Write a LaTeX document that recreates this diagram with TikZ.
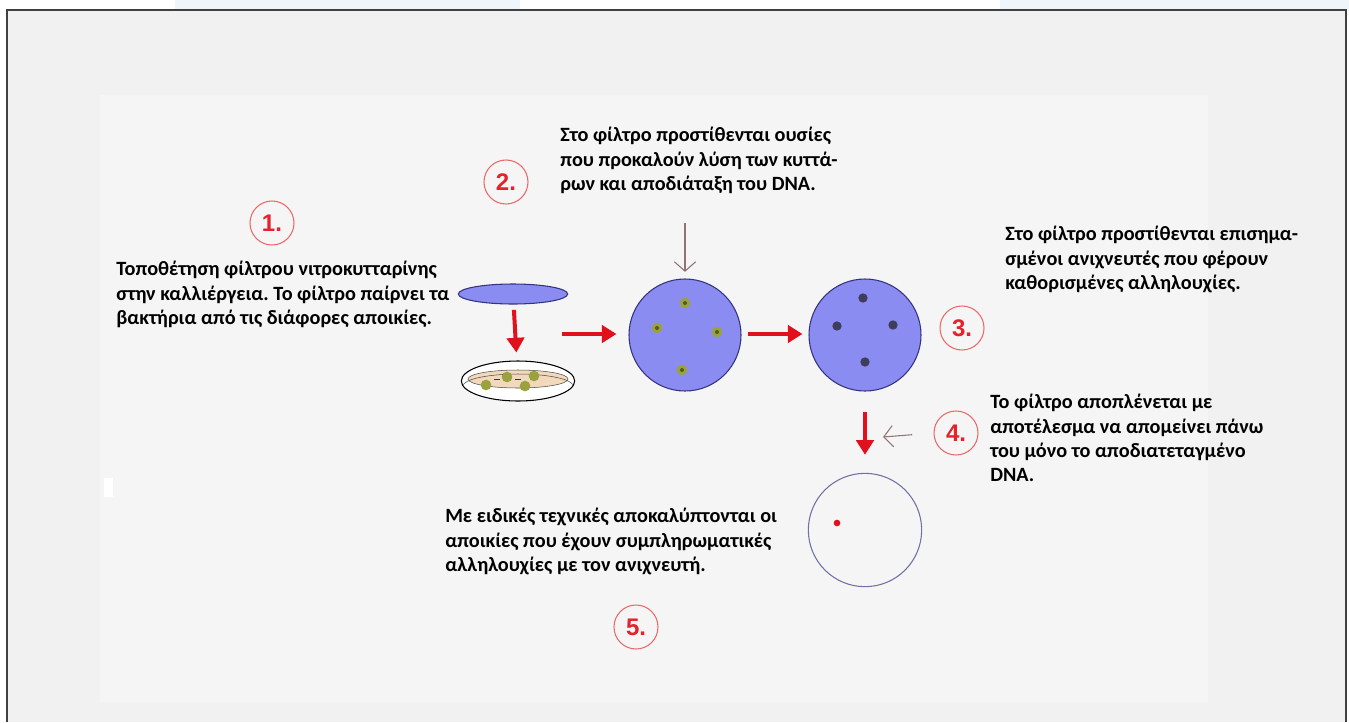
\documentclass[tikz,border=0pt]{standalone}
\usepackage{fontspec}
\setmainfont{Carlito}
\newfontfamily\digitfont{Liberation Sans}
\usepackage{tikz}
\usetikzlibrary{arrows.meta}
\usetikzlibrary{shapes.geometric}
\frenchspacing

\definecolor{panel}{HTML}{F1F1F1}
\definecolor{innerpanel}{HTML}{F5F5F5}
\definecolor{violetblue}{HTML}{8A8CF2}
\definecolor{navy}{HTML}{34347E}
\definecolor{arrowred}{HTML}{E0101C}
\definecolor{ringred}{HTML}{E86A6A}
\definecolor{numred}{HTML}{E3222A}
\definecolor{brownish}{HTML}{8E7474}
\definecolor{agar}{HTML}{F2D9BC}
\definecolor{colony}{HTML}{9AA23E}
\definecolor{darkcolony}{HTML}{3E3E5C}
\definecolor{washblue}{HTML}{EEF5FB}

\begin{document}
\begin{tikzpicture}
  [x=0.75pt,y=-0.75pt,every node/.style={inner sep=0pt},
   caption/.style={anchor=north west,align=left,font=\fontsize{15.2}{18.2}\selectfont\bfseries},
   num/.style={circle,draw=ringred,line width=0.8pt,minimum size=33pt,text=numred,
     font=\digitfont\fontsize{18}{18}\selectfont\bfseries},
   filter/.style={circle,draw=navy,line width=0.8pt,fill=violetblue,minimum size=84pt},
   redarrow/.style={draw=arrowred,line width=3pt,-{Triangle[length=11pt,width=13pt]}},
   thinarrow/.style={draw=brownish,line width=0.8pt,-{Straight Barb[length=7pt,width=16pt]}}]
  \useasboundingbox (0,0) rectangle (1349,722);
  \fill[white] (0,0) rectangle (1349,722);
  \fill[washblue] (175,0) rectangle (520,10);
  \fill[washblue] (1000,0) rectangle (1349,10);
  \fill[panel] (7,10) rectangle (1346,722);
  \fill[innerpanel] (100,95) rectangle (1208,702);
  \fill[white] (104,478) rectangle (113,497);
  \draw[black!75,line width=1.5pt] (7,722) -- (7,10) -- (1346,10) -- (1346,722);

  % numbered steps
  \node[num] (n1) at (272,223) {1.};
  \node[num] (n2) at (506,182) {2.};
  \node[num] (n3) at (962,328) {3.};
  \node[num] (n4) at (956,433) {4.};
  \node[num] (n5) at (636,627) {5.};

  % filter and dish
  \node[ellipse,draw=navy,line width=0.8pt,fill=violetblue,minimum width=82pt,minimum height=15pt] (disc) at (513,294) {};
  \node[ellipse,draw=black,line width=0.8pt,fill=white,minimum width=85pt,minimum height=30pt] (dish) at (518,381) {};
  \fill[agar,draw=black!70] (518,379) ellipse [x radius=50, y radius=9];
  \draw[black!70] (463,386) arc [start angle=180, end angle=360, x radius=55, y radius=12];
  \foreach \x/\y in {486/385, 507/377, 525/386, 534/376}
    \fill[colony] (\x,\y) circle (4pt);
  \foreach \x in {494, 515}
    \draw[black!80] (\x,379) -- ++(6,0);

  \node[filter] (f1) at (685,335) {};
  \node[filter] (f2) at (865,335) {};
  \node[circle,draw=navy!70,line width=0.8pt,minimum size=85pt] (f3) at (865,530) {};

  \foreach \dx/\dy in {0/-32, -28/-7, 32/-3, -3/35}
    {\fill[colony] ([shift={(\dx,\dy)}]f1.center) circle (4pt);
     \fill[colony!55!black] ([shift={(\dx,\dy)}]f1.center) circle (1.5pt);}
  \foreach \dx/\dy in {-2/-37, -28/-9, 28/-10, 0/27}
    \fill[darkcolony] ([shift={(\dx,\dy)}]f2.center) circle (3.5pt);
  \fill[arrowred] (837,523) circle (2.5pt);

  % arrows
  \coordinate (a1) at (562,334);
  \coordinate (b1) at (685,223);
  \coordinate (b2) at (883,437);
  \draw[redarrow,shorten <=4pt,shorten >=6pt] (disc) -- (dish);
  \draw[redarrow,shorten >=9pt] (a1) -- (f1.west |- a1);
  \draw[redarrow,shorten <=4.5pt,shorten >=4.5pt] (f1.east |- a1) -- (f2.west |- a1);
  \draw[redarrow,shorten <=15.5pt,shorten >=13.5pt] (f2) -- (f3);
  \draw[thinarrow,shorten >=5pt] (b1) -- (f1.north);
  \draw[thinarrow,shorten <=16pt] (n4.west) -- (b2);

  % step texts
  \node[caption] (t1) at (116,261) {Τοποθέτηση φίλτρου νιτροκυτταρίνης\\στην καλλιέργεια. Το φίλτρο παίρνει τα\\βακτήρια από τις διάφορες αποικίες.};
  \node[caption] (t2) at (560,127) {Στο φίλτρο προστίθενται ουσίες\\που προκαλούν λύση των κυττά-\\ρων και αποδιάταξη του DNA.};
  \node[caption] (t3) at (1005,226) {Στο φίλτρο προστίθενται επισημα-\\σμένοι ανιχνευτές που φέρουν\\καθορισμένες αλληλουχίες.};
  \node[caption] (t4) at (990,394) {Το φίλτρο αποπλένεται με\\αποτέλεσμα να απομείνει πάνω\\του μόνο το αποδιατεταγμένο\\DNA.};
  \node[caption] (t5) at (445,508) {Με ειδικές τεχνικές αποκαλύπτονται οι\\αποικίες που έχουν συμπληρωματικές\\αλληλουχίες με τον ανιχνευτή.};
\end{tikzpicture}
\end{document}
